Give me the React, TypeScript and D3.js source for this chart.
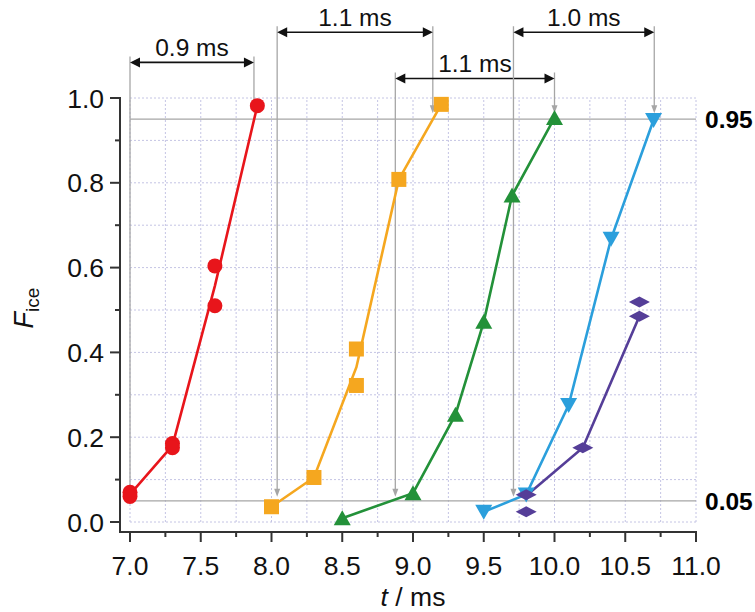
import React from "react";
import * as d3 from "d3";

// marker data (t in ms, F_ice)
const redTimes = [7.0, 7.0, 7.3, 7.3, 7.6, 7.6, 7.9];
const redValues = [0.07, 0.06, 0.185, 0.175, 0.604, 0.51, 0.982];
const redLineTimes = [7.0, 7.3, 7.6, 7.9];
const redLineValues = [0.065, 0.18, 0.557, 0.982];

const orangeTimes = [8.0, 8.3, 8.6, 8.6, 8.9, 9.2];
const orangeValues = [0.036, 0.105, 0.408, 0.322, 0.808, 0.985];
const orangeLineTimes = [8.0, 8.3, 8.6, 8.9, 9.2];
const orangeLineValues = [0.036, 0.105, 0.365, 0.808, 0.985];

const greenTimes = [8.5, 9.0, 9.3, 9.5, 9.7, 10.0];
const greenValues = [0.009, 0.068, 0.253, 0.472, 0.77, 0.953];

const blueTimes = [9.5, 9.8, 10.1, 10.4, 10.7];
const blueValues = [0.024, 0.065, 0.276, 0.668, 0.948];

const purpleTimes = [9.8, 9.8, 10.2, 10.6, 10.6];
const purpleValues = [0.064, 0.024, 0.175, 0.519, 0.485];
const purpleLineTimes = [9.8, 10.2, 10.6];
const purpleLineValues = [0.062, 0.175, 0.485];

// threshold lines
const thresholds = [0.05, 0.95];
const thresholdLabels = ["0.05", "0.95"];

// time spans between threshold crossings
const spanLabels = ["0.9 ms", "1.1 ms", "1.1 ms", "1.0 ms"];
const spanStart = [7.0, 8.04, 8.875, 9.71];
const spanEnd = [7.876, 9.14, 10.0, 10.705];

const xTicks = d3.range(7, 11.001, 0.5);
const xMinor = d3.range(7, 11.001, 0.25);
const yTicks = d3.range(0, 1.001, 0.2);
const yMinor = d3.range(0, 1.001, 0.1);

const W = 755;
const H = 612;
const FONT = "'Liberation Sans', Arial, sans-serif";

// arrow heights (in F units, above the plot)
const spanLevel = [1.084, 1.155, 1.046, 1.155];

const x = d3.scaleLinear().domain([7, 11]).range([130, 696]);
const y = d3.scaleLinear().domain([0, 1]).range([522, 98]);

const zip = (ts: number[], vs: number[]) => ts.map((t, i) => [t, vs[i]] as [number, number]);
const line = d3.line<[number, number]>().x(d => x(d[0])).y(d => y(d[1]));

type Shape = "circle" | "square" | "up" | "down" | "diamond";

const Marker = ({ cx, cy, shape, color }: { cx: number; cy: number; shape: Shape; color: string }) => {
  if (shape === "circle") return <circle cx={cx} cy={cy} r={7.5} fill={color} />;
  if (shape === "square") return <rect x={cx - 7.5} y={cy - 7.5} width={15} height={15} fill={color} />;
  let pts = "";
  if (shape === "up") pts = `${cx - 8.5},${cy + 7} ${cx + 8.5},${cy + 7} ${cx},${cy - 8}`;
  if (shape === "down") pts = `${cx - 8.5},${cy - 7} ${cx + 8.5},${cy - 7} ${cx},${cy + 8}`;
  if (shape === "diamond") pts = `${cx - 10.5},${cy} ${cx},${cy - 5.5} ${cx + 10.5},${cy} ${cx},${cy + 5.5}`;
  return <polygon points={pts} fill={color} />;
};

const series = [
  { color: "#e8151b", shape: "circle" as Shape, pts: zip(redTimes, redValues), ln: zip(redLineTimes, redLineValues) },
  { color: "#f5a71f", shape: "square" as Shape, pts: zip(orangeTimes, orangeValues), ln: zip(orangeLineTimes, orangeLineValues) },
  { color: "#239139", shape: "up" as Shape, pts: zip(greenTimes, greenValues), ln: zip(greenTimes, greenValues) },
  { color: "#2b9fdc", shape: "down" as Shape, pts: zip(blueTimes, blueValues), ln: zip(blueTimes, blueValues) },
  { color: "#553e98", shape: "diamond" as Shape, pts: zip(purpleTimes, purpleValues), ln: zip(purpleLineTimes, purpleLineValues) },
];

const gray = "#a6a6a6";

const DownArrow = ({ xp, top, bottom }: { xp: number; top: number; bottom: number }) => (
  <g>
    <line x1={xp} x2={xp} y1={top} y2={bottom - 6} stroke={gray} strokeWidth={1.3} />
    <polygon points={`${xp - 3},${bottom - 8} ${xp + 3},${bottom - 8} ${xp},${bottom}`} fill={gray} />
  </g>
);

export default function App() {
  return (
    <svg width={W} height={H} style={{ position: "absolute", left: 0, top: 0, background: "#fff" }} fontFamily={FONT}>
      {/* grid */}
      <g stroke="#c4c4e4" strokeWidth={1} strokeDasharray="2,2">
        {xMinor.map(t => (
          <line key={"gx" + t} x1={x(t)} x2={x(t)} y1={y(0)} y2={y(1)} />
        ))}
        {yMinor.map(v => (
          <line key={"gy" + v} x1={x(7)} x2={x(11)} y1={y(v)} y2={y(v)} />
        ))}
      </g>

      {/* threshold lines */}
      {thresholds.map((v, i) => (
        <g key={"th" + i}>
          <line x1={x(7)} x2={x(11)} y1={y(v)} y2={y(v)} stroke={gray} strokeWidth={1.3} />
          <text x={705} y={y(v)} dy="0.36em" fontSize={24.5} fontWeight="bold" fill="#000">
            {thresholdLabels[i]}
          </text>
        </g>
      ))}

      {/* span annotations */}
      {spanLabels.map((lab, i) => {
        const x0 = x(spanStart[i]);
        const x1 = x(spanEnd[i]);
        const ay = y(spanLevel[i]);
        const h = 10;
        const w = 5;
        return (
          <g key={"sp" + i}>
            <DownArrow xp={x0} top={ay - 6} bottom={y(thresholds[0]) - 4} />
            <DownArrow xp={x1} top={ay - 6} bottom={y(thresholds[1]) - 6} />
            <line x1={x0 + 4} x2={x1 - 4} y1={ay} y2={ay} stroke="#111" strokeWidth={1.6} />
            <polygon points={`${x0},${ay} ${x0 + h},${ay - w} ${x0 + h},${ay + w}`} fill="#111" />
            <polygon points={`${x1},${ay} ${x1 - h},${ay - w} ${x1 - h},${ay + w}`} fill="#111" />
            <text x={(x0 + x1) / 2} y={ay - 6} textAnchor="middle" fontSize={24.5} fill="#111">
              {lab}
            </text>
          </g>
        );
      })}

      {/* series lines */}
      {series.map((s, i) => (
        <path key={"ln" + i} d={line(s.ln) || ""} fill="none" stroke={s.color} strokeWidth={2.6} />
      ))}
      {/* markers */}
      {series.map((s, i) =>
        s.pts.map((p, j) => <Marker key={`m${i}-${j}`} cx={x(p[0])} cy={y(p[1])} shape={s.shape} color={s.color} />)
      )}

      {/* axes */}
      <g stroke="#333" strokeWidth={2}>
        <line x1={120} x2={120} y1={y(1) - 1} y2={532} />
        <line x1={119} x2={x(11) + 1} y1={532} y2={532} />
        {yMinor.map(v => (
          <line key={"yt" + v} x1={Math.round(v * 10) % 2 === 0 ? 110 : 115} x2={120} y1={y(v)} y2={y(v)} />
        ))}
        {xMinor.map((t, i) => (
          <line key={"xt" + t} x1={x(t)} x2={x(t)} y1={532} y2={i % 2 === 0 ? 542 : 537} />
        ))}
      </g>
      {yTicks.map(v => (
        <text key={"yl" + v} x={104} y={y(v)} dy="0.36em" textAnchor="end" fontSize={26.5} fill="#111">
          {v.toFixed(1)}
        </text>
      ))}
      {xTicks.map(t => (
        <text key={"xl" + t} x={x(t)} y={575} textAnchor="middle" fontSize={26.5} fill="#111">
          {t.toFixed(1)}
        </text>
      ))}

      <text x={413} y={606} textAnchor="middle" fontSize={26.5} fill="#111">
        <tspan fontStyle="italic">t</tspan> / ms
      </text>
      <text transform="translate(33,308) rotate(-90)" textAnchor="middle" fontSize={27} fill="#111">
        <tspan fontStyle="italic">F</tspan>
        <tspan fontSize={19} dy={6}>ice</tspan>
      </text>
    </svg>
  );
}
